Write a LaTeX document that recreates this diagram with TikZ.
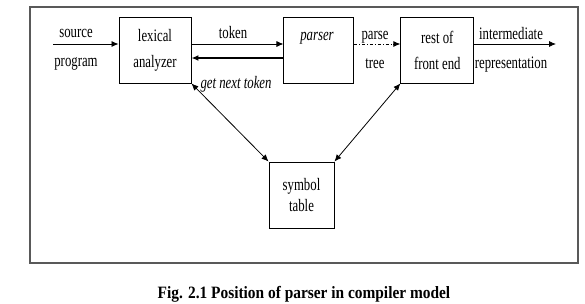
\documentclass[tikz,border=0pt]{standalone}
\usepackage{fontspec}
\setmainfont{Liberation Serif}
\newfontfamily\narrowserif[FakeStretch=0.73]{Liberation Serif}
\newfontfamily\capserif[FakeStretch=0.89]{Liberation Serif}
\usetikzlibrary{arrows.meta, positioning}
\tikzset{
	cbox/.style={draw=black, line width=0.9pt, minimum height=66pt, inner sep=0pt,
		align=center, font=\narrowserif\fontsize{17.5}{26}\selectfont},
	clbl/.style={align=center, inner sep=0pt, font=\narrowserif\fontsize{17.5}{29}\selectfont},
	carr/.style={-{Latex[length=7pt,width=6pt]}, line width=0.8pt},
	cdarr/.style={{Latex[length=7pt,width=6pt]}-{Latex[length=7pt,width=6pt]}, line width=0.8pt}
}

\begin{document}
\begin{tikzpicture}[x=1pt, y=-1pt]
	\useasboundingbox (0,0) rectangle (585,303);
	\draw[gray!70!black, line width=1.6pt] (30,7) rectangle (578,263);
	% boxes
	\node[cbox, minimum width=72pt] (lex) at (155,50) {lexical\\analyzer};
	\node[cbox, minimum width=70pt, right=92pt of lex] (parser) {};
	\node[cbox, minimum width=73pt, right=46pt of parser] (rest) {rest of\\front end};
	\node[cbox, minimum width=65pt, font=\narrowserif\fontsize{17.5}{21}\selectfont] (sym) at (301.5,195) {symbol\\table};
	% labels
	\node[clbl, font=\narrowserif\itshape\fontsize{17.5}{21}\selectfont] (ptext) at (317,38) {parser};
	\node[clbl] (src) at (76,50) {source\\program};
	\node[clbl] (tok) at (233,33) {token};
	\node[clbl, font=\narrowserif\itshape\fontsize{17.5}{21}\selectfont] (gnt) at (236,84) {get next token};
	\node[clbl] (ptree) at (375,50) {parse\\tree};
	\node[clbl] (ir) at (511,50) {intermediate\\representation};
	% arrows
	\coordinate (srcin) at (53,44);
	\coordinate (irout) at (556,44);
	\draw[carr] (srcin) -- (srcin -| lex.west);
	\draw[carr] ([yshift=6pt]lex.east) -- ([yshift=6pt]parser.west);
	\draw[carr, line width=1.6pt] ([yshift=-8pt]parser.west) -- ([yshift=-8pt]lex.east);
	\draw[carr, dash dot] ([yshift=6pt]parser.east) -- ([yshift=6pt]rest.west);
	\draw[carr] ([yshift=6pt]rest.east) -- (irout);
	\draw[cdarr] (lex.south east) -- (sym.north west);
	\draw[cdarr] (rest.south west) -- (sym.north east);
	% caption
	\node[font=\capserif\bfseries\fontsize{17.3}{20}\selectfont] (cap) at (304,294) {Fig. 2.1 Position of parser in compiler model};
\end{tikzpicture}
\end{document}
